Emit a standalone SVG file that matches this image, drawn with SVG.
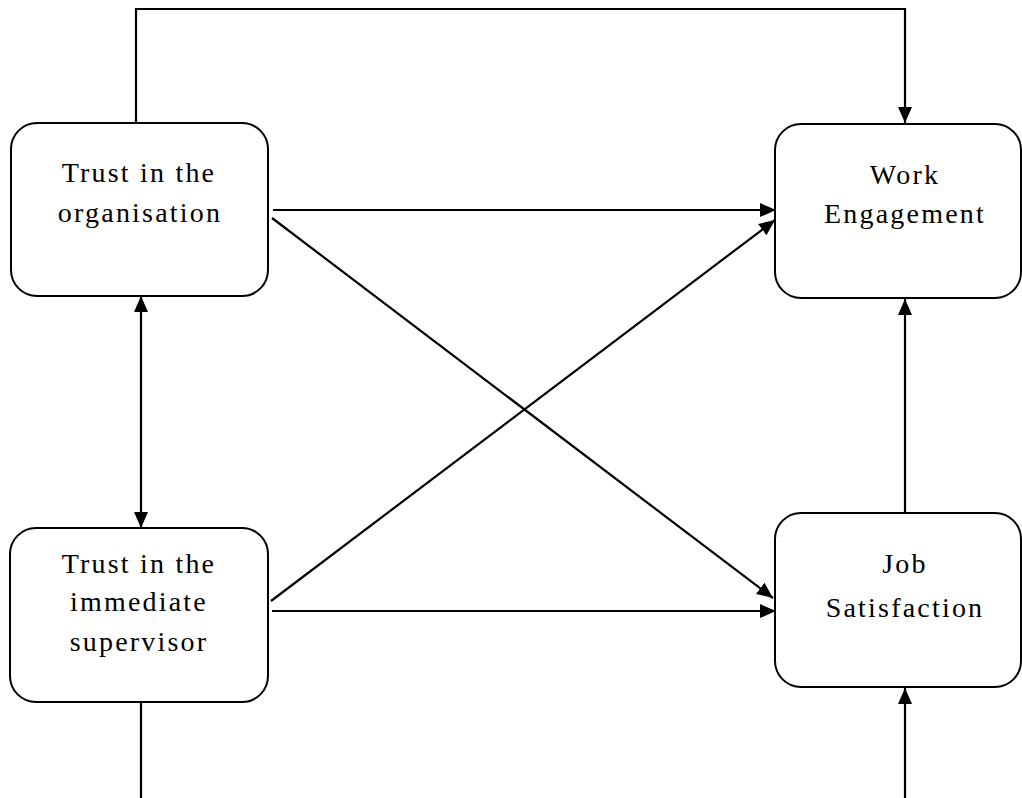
<svg xmlns="http://www.w3.org/2000/svg" width="1022" height="798" viewBox="0 0 1022 798">
  <style>
    .box { fill: #ffffff; stroke: #000000; stroke-width: 2; }
    .lbl { font-family: "Liberation Serif", "Times New Roman", serif; font-size: 28px; letter-spacing: 2.2px; fill: #000000; text-anchor: middle; }
    .conn { fill: none; stroke: #000000; stroke-width: 2.2; }
  </style>
  <defs>
    <marker id="arrow" markerUnits="userSpaceOnUse" markerWidth="18" markerHeight="16" refX="16" refY="7" orient="auto">
      <path d="M0,0 L16,7 L0,14 Z" fill="#000000"/>
    </marker>
    <marker id="arrowStart" markerUnits="userSpaceOnUse" markerWidth="18" markerHeight="16" refX="0" refY="7" orient="auto">
      <path d="M16,0 L0,7 L16,14 Z" fill="#000000"/>
    </marker>
  </defs>
  <rect width="1022" height="798" fill="#ffffff"/>

  <g id="connectors">
    <polyline class="conn" points="136,122 136,9 905,9 905,123" marker-end="url(#arrow)"/>
    <line class="conn" x1="273" y1="210" x2="776" y2="210" marker-end="url(#arrow)"/>
    <line class="conn" x1="272" y1="218" x2="773" y2="598" marker-end="url(#arrow)"/>
    <line class="conn" x1="271" y1="601" x2="775" y2="220" marker-end="url(#arrow)"/>
    <line class="conn" x1="272" y1="611" x2="776" y2="611" marker-end="url(#arrow)"/>
    <line class="conn" x1="141" y1="296" x2="141" y2="528" marker-start="url(#arrowStart)" marker-end="url(#arrow)"/>
    <line class="conn" x1="905" y1="513" x2="905" y2="299" marker-end="url(#arrow)"/>
    <line class="conn" x1="905" y1="798" x2="905" y2="688" marker-end="url(#arrow)"/>
    <line class="conn" x1="141" y1="703" x2="141" y2="798"/>
  </g>

  <g id="trust-organisation">
    <rect class="box" x="11" y="123" width="257" height="173" rx="26" ry="26"/>
    <text class="lbl" x="139" y="182">Trust in the</text>
    <text class="lbl" x="140" y="222">organisation</text>
  </g>

  <g id="work-engagement">
    <rect class="box" x="775" y="124" width="246" height="174" rx="26" ry="26"/>
    <text class="lbl" x="905" y="184">Work</text>
    <text class="lbl" x="905" y="223">Engagement</text>
  </g>

  <g id="trust-supervisor">
    <rect class="box" x="10" y="528" width="258" height="174" rx="26" ry="26"/>
    <text class="lbl" x="139" y="573">Trust in the</text>
    <text class="lbl" x="139" y="611">immediate</text>
    <text class="lbl" x="139" y="651">supervisor</text>
  </g>

  <g id="job-satisfaction">
    <rect class="box" x="775" y="513" width="246" height="174" rx="26" ry="26"/>
    <text class="lbl" x="905" y="573">Job</text>
    <text class="lbl" x="905" y="617">Satisfaction</text>
  </g>
</svg>
